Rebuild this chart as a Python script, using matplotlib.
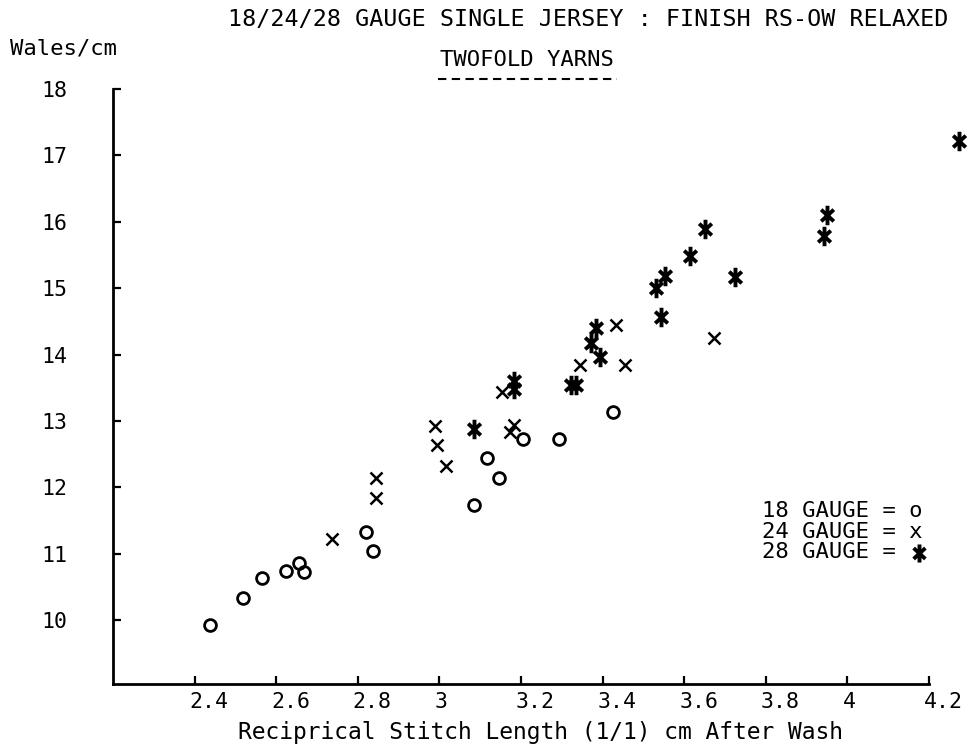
import matplotlib
matplotlib.use("Agg")
import matplotlib.pyplot as plt
from matplotlib.path import Path
from matplotlib.lines import Line2D

# ---- data ----
g18_x = [2.438, 2.519, 2.566, 2.625, 2.657, 2.668, 2.819, 2.838, 3.116, 3.146, 3.085, 3.205, 3.293, 3.425]
g18_y = [9.93, 10.33, 10.63, 10.74, 10.86, 10.73, 11.33, 11.04, 12.44, 12.14, 11.73, 12.73, 12.73, 13.13]

g24_x = [2.737, 2.845, 2.845, 2.988, 2.995, 3.017, 3.154, 3.183, 3.173, 3.344, 3.434, 3.454, 3.673]
g24_y = [11.22, 12.14, 11.84, 12.93, 12.64, 12.33, 13.44, 12.94, 12.84, 13.84, 14.44, 13.84, 14.25]

g28_x = [3.085, 3.183, 3.183, 3.322, 3.336, 3.383, 3.371, 3.393, 3.531, 3.552, 3.542, 3.613, 3.651, 3.724, 3.951, 3.942, 4.273]
g28_y = [12.88, 13.48, 13.60, 13.54, 13.54, 14.40, 14.17, 13.97, 15.00, 15.18, 14.57, 15.48, 15.89, 15.17, 16.10, 15.79, 17.21]

x_ticks = [2.4, 2.6, 2.8, 3.0, 3.2, 3.4, 3.6, 3.8, 4.0, 4.2]
x_tick_labels = ["2.4", "2.6", "2.8", "3", "3.2", "3.4", "3.6", "3.8", "4", "4.2"]
y_ticks = [10, 11, 12, 13, 14, 15, 16, 17, 18]
y_tick_labels = ["10", "11", "12", "13", "14", "15", "16", "17", "18"]

title = "18/24/28 GAUGE SINGLE JERSEY : FINISH RS-OW RELAXED"
subtitle = "TWOFOLD YARNS"
xlabel = "Reciprical Stitch Length (1/1) cm After Wash"
ylabel = "Wales/cm"
legend_lines = ["18 GAUGE = o", "24 GAUGE = x", "28 GAUGE ="]

# ---- figure ----
W, H = 977, 749
fig = plt.figure(figsize=(W / 100, H / 100), dpi=100)
FONT = "DejaVu Sans Mono"

def ftext(px, py, s, size=15.5, ha="left", va="center"):
    fig.text(px / W, 1 - py / H, s, fontsize=size, family=FONT, ha=ha, va=va, color="black")

ax = fig.add_axes([113 / W, 1 - 684 / H, 816 / W, 595 / H])
ax.set_xlim(2.2, 4.2)
ax.set_ylim(9.04, 18.0)

for s in ["top", "right"]:
    ax.spines[s].set_visible(False)
for s in ["left", "bottom"]:
    ax.spines[s].set_linewidth(2.0)

ax.set_xticks(x_ticks)
ax.set_xticklabels([])
ax.set_yticks(y_ticks)
ax.set_yticklabels(y_tick_labels, family=FONT, fontsize=15.5)
ax.tick_params(axis="both", direction="in", length=6, width=1.6)
ax.tick_params(axis="y", pad=33)

for t, lbl in zip(x_ticks, x_tick_labels):
    ax.annotate(lbl, xy=(t, 0), xycoords=ax.get_xaxis_transform(),
                xytext=(-5, -8), textcoords="offset pixels",
                ha="left", va="top", family=FONT, fontsize=15.5, annotation_clip=False)

# custom star marker (vertical asterisk)
star = Path([(0, -1), (0, 1), (-0.65, -0.6), (0.65, 0.6), (-0.65, 0.6), (0.65, -0.6)],
            [Path.MOVETO, Path.LINETO, Path.MOVETO, Path.LINETO, Path.MOVETO, Path.LINETO])

ax.plot(g18_x, g18_y, linestyle="none", marker="o", markersize=8.5,
        markerfacecolor="none", markeredgecolor="black", markeredgewidth=2.0, clip_on=False)
ax.plot(g24_x, g24_y, linestyle="none", marker="x", markersize=9,
        markeredgecolor="black", markeredgewidth=1.8, clip_on=False)
ax.plot(g28_x, g28_y, linestyle="none", marker=star, markersize=14,
        markerfacecolor="none", markeredgecolor="black", markeredgewidth=2.8, clip_on=False)

# ---- texts ----
ftext(588, 20, title, size=16.8, ha="center")
ftext(527, 60, subtitle, size=16, ha="center")
# dashed underline beneath the subtitle (13 short dashes)
fig.lines.append(Line2D([438 / W, 617 / W], [1 - 79 / H, 1 - 79 / H], transform=fig.transFigure,
                        color="black", linewidth=1.5, linestyle=(0, (4.0, 2.6))))
ftext(10, 48, ylabel, size=16)
ftext(541, 732, xlabel, size=16.5, ha="center")

ly = [511, 532, 552]
for y, s in zip(ly, legend_lines):
    ftext(762, y, s, size=16)
fig.lines.append(Line2D([919 / W], [1 - 553 / H], transform=fig.transFigure,
                        marker=star, markersize=13, markerfacecolor="none",
                        markeredgecolor="black", markeredgewidth=2.8,
                        linestyle="none"))

fig.savefig("out.png", dpi=100, facecolor="white")
